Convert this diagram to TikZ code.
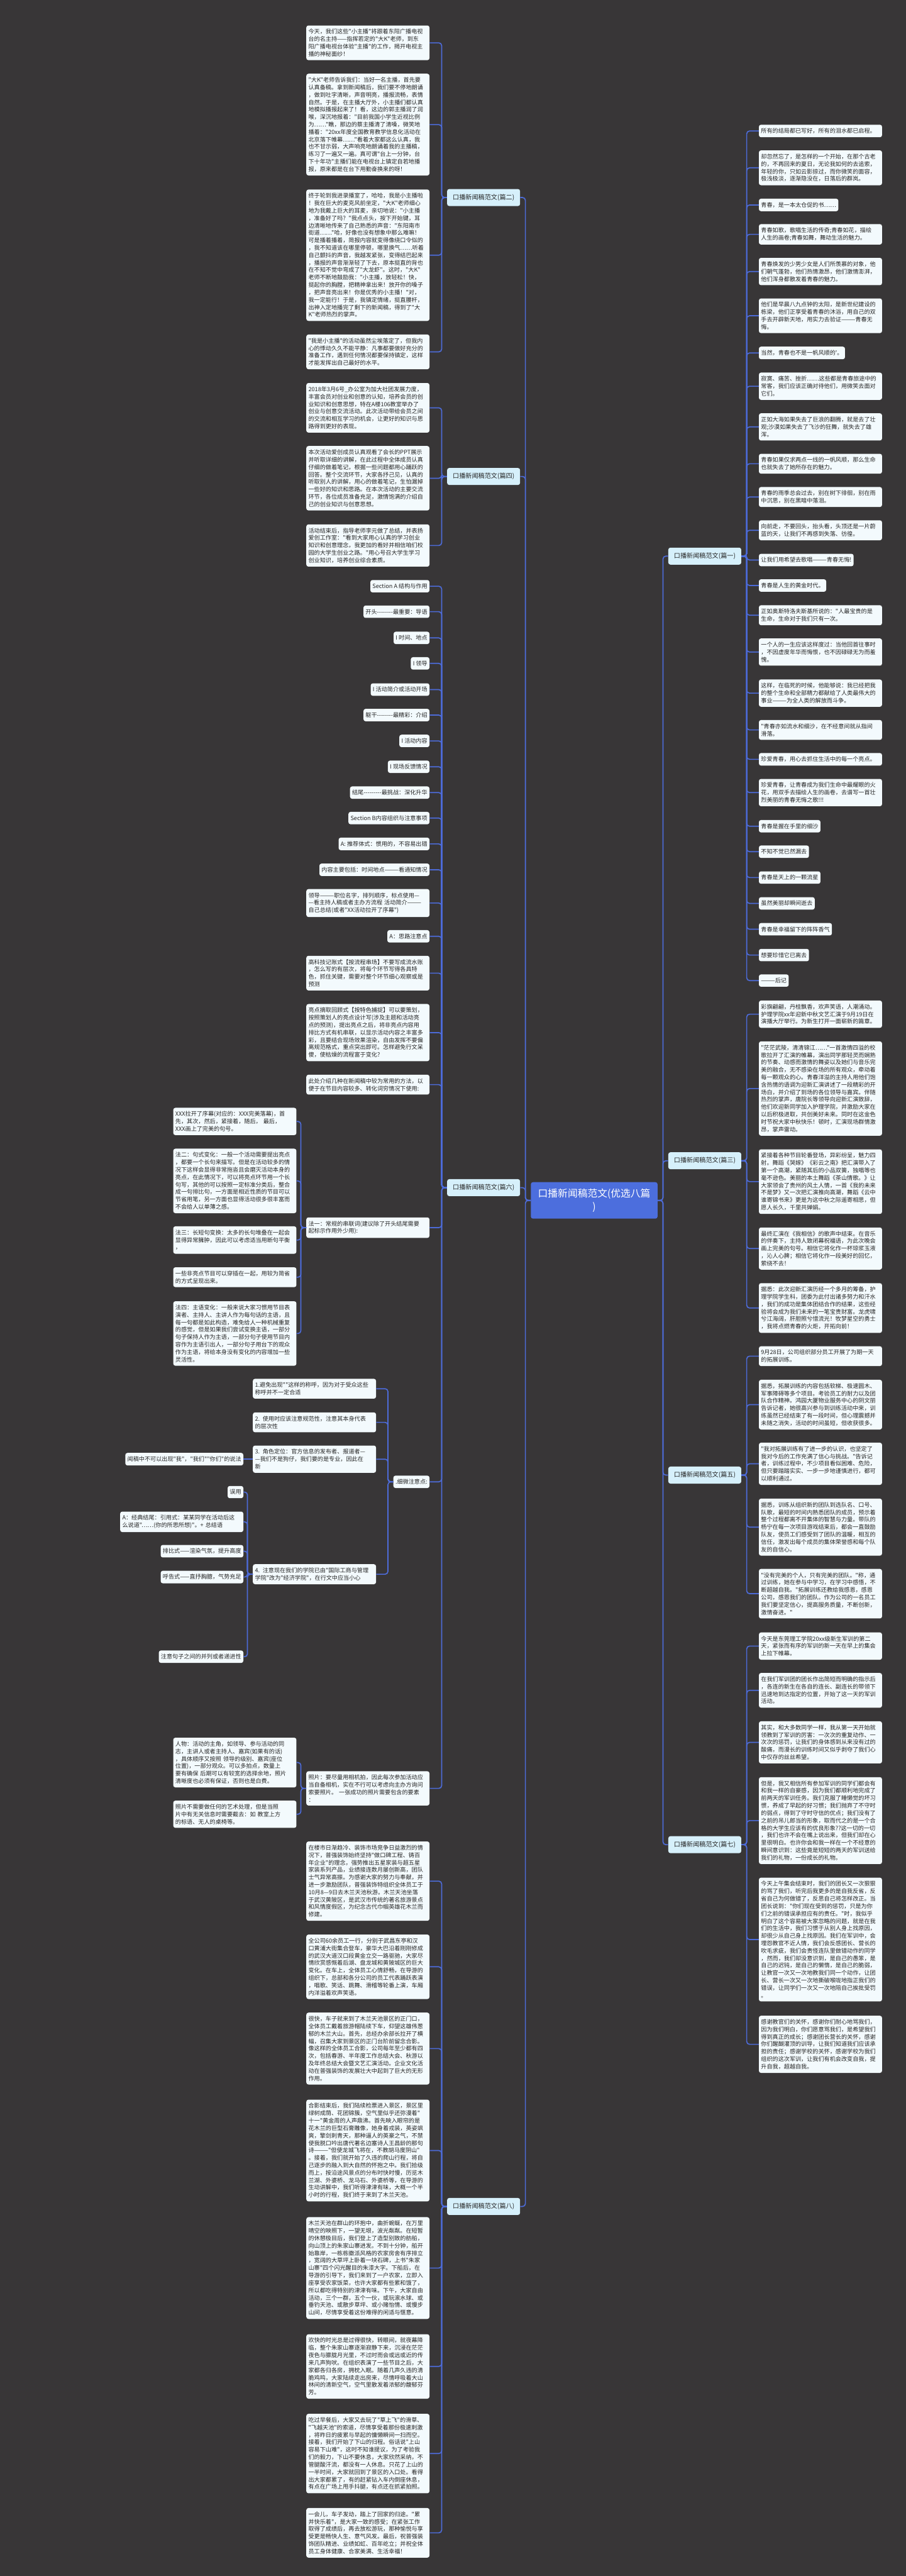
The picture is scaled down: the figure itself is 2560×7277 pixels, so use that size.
\documentclass[tikz,border=0pt]{standalone}
\usepackage{fontspec}
\setmainfont{Noto Sans CJK SC}[Ligatures=TeXOff]
\definecolor{mmbg}{HTML}{383637}
\definecolor{mmroot}{HTML}{4C6EDD}
\definecolor{mmtopic}{HTML}{D6F0FB}
\definecolor{mmleaf}{HTML}{F3FAFD}
\definecolor{mmlink}{HTML}{4D6BD8}
\definecolor{mmink}{HTML}{262626}
\tikzset{
  bx/.style={rounded corners=3pt, fill=mmleaf, text=mmink, inner xsep=3pt, inner ysep=5pt, align=left, font=\fontsize{8.1}{10.5}\selectfont},
  leaf/.style={bx, text width=168pt},
  tag/.style={bx},
  topic/.style={rounded corners=3pt, fill=mmtopic, text=mmink, inner xsep=8pt, minimum height=24pt, font=\fontsize{9}{11}\selectfont},
  root/.style={rounded corners=3pt, fill=mmroot, text=white, align=center, minimum width=179pt, minimum height=51.5pt, font=\fontsize{14}{19}\selectfont},
  link/.style={draw=mmlink, line width=1.5pt, rounded corners=4pt},
}
\begin{document}
\begin{tikzpicture}[x=0.5pt,y=-0.5pt]
  \fill[mmbg] (0,0) rectangle (2560,7277);
  \useasboundingbox (0,0) rectangle (2560,7277);

  % centre and first level
  \node[root] (root) at (1679,3391) {口播新闻稿范文(优选八篇\\)};
  \node[topic, anchor=east] (p2) at (1470,558) {口播新闻稿范文(篇二)};
  \node[topic, anchor=east] (p4) at (1470,1346) {口播新闻稿范文(篇四)};
  \node[topic, anchor=east] (p6) at (1470,3355) {口播新闻稿范文(篇六)};
  \node[topic, anchor=east] (p8) at (1470,6233) {口播新闻稿范文(篇八)};
  \node[topic, anchor=west] (p1) at (1888,1571) {口播新闻稿范文(篇一)};
  \node[topic, anchor=west] (p3) at (1888,3279) {口播新闻稿范文(篇三)};
  \node[topic, anchor=west] (p5) at (1888,4167) {口播新闻稿范文(篇五)};
  \node[topic, anchor=west] (p7) at (1888,5211) {口播新闻稿范文(篇七)};

  % pian er
  \node[leaf, anchor=east] (b2a) at (1214,121) {今天，我们这些"小主播"将跟着东阳广播电视\\台的名主持——指挥若定的"大K"老师，到东\\阳广播电视台体验"主播"的工作，揭开电视主\\播的神秘面纱！};
  \node[leaf, anchor=east] (b2b) at (1214,352) {"大K"老师告诉我们：当好一名主播，首先要\\认真备稿。拿到新闻稿后，我们要不停地朗诵\\，做到吐字清晰，声音明亮，播报流畅，表情\\自然。于是，在主播大厅外，小主播们都认真\\地模拟播报起来了！看，这边的郭主播润了润\\喉，深沉地报着："目前我国小学生近视比例\\为……"瞧，那边的蔡主播清了清嗓，微笑地\\播着："20xx年度全国教育教学信息化活动在\\北京落下帷幕……"看着大家都这么认真，我\\也不甘示弱，大声响亮地朗诵着我的主播稿，\\练习了一遍又一遍。真可谓"台上一分钟，台\\下十年功"主播们能在电视台上镇定自若地播\\报，原来都是在台下用勤奋换来的呀！};
  \node[leaf, anchor=east] (b2c) at (1214,721) {终于轮到我进录播室了，哈哈，我是小主播啦\\！我在巨大的麦克风前坐定，"大K"老师细心\\地为我戴上巨大的耳麦，亲切地说："小主播\\，准备好了吗？"我点点头，按下开始键，耳\\边清晰地传来了自己熟悉的声音："东阳南市\\街道……"哈，好像也没有想象中那么难嘛！\\可是播着播着，简报内容就变得像绕口令似的\\，我不知道该在哪里停顿，哪里换气……听着\\自己颤抖的声音，我越发紧张，变得结巴起来\\，播报的声音渐渐轻了下去，原本挺直的背也\\在不知不觉中弯成了"大龙虾"。这时，"大K"\\老师不断地鼓励我："小主播，放轻松！快，\\挺起你的胸膛，把精神拿出来！放开你的嗓子\\，把声音亮出来！你是优秀的小主播！"对，\\我一定能行！于是，我镇定情绪，挺直腰杆，\\出神入定地播完了剩下的新闻稿，得到了"大\\K"老师热烈的掌声。};
  \node[leaf, anchor=east] (b2d) at (1214,994) {"我是小主播"的活动虽然尘埃落定了，但我内\\心的悸动久久不能平静：凡事都要做好充分的\\准备工作，遇到任何情况都要保持镇定，这样\\才能发挥出自己最好的水平。};

  % pian si
  \node[leaf, anchor=east] (b4a) at (1214,1152) {2018年3月6号\_办公室为加大社团发展力度，\\丰富会员对创业和创意的认知，培养会员的创\\业知识和创意思想，特在A楼106教室举办了\\创业与创意交流活动。此次活动带给会员之间\\的交流和相互学习的机会，让更好的知识与思\\路得到更好的表现。};
  \node[leaf, anchor=east] (b4b) at (1214,1351) {本次活动爱创成员认真观看了会长的PPT展示\\并听取详细的讲解，在此过程中全体成员认真\\仔细的做着笔记，根据一些问题都用心踊跃的\\回答。整个交流环节，大家各抒己见，认真的\\听取别人的讲解，用心的做着笔记，生怕漏掉\\一些好的知识和思路。在本次活动的主要交流\\环节，各位成员准备充足，激情饱满的介绍自\\己的创业知识与创意思想。};
  \node[leaf, anchor=east] (b4c) at (1214,1541) {活动结束后，指导老师李元做了总结，并表扬\\爱创工作室："看到大家用心认真的学习创业\\知识和创意理念，我更加的看好并相信咱们校\\园的大学生创业之路。"用心号召大学生学习\\创业知识，培养创业综合素质。};

  % pian liu
  \node[tag, anchor=east] (b6a) at (1214,1656) {Section A 结构与作用};
  \node[tag, anchor=east] (b6b) at (1214,1728) {开头--------最重要：导语};
  \node[tag, anchor=east] (b6c) at (1214,1802) {I 时间、地点};
  \node[tag, anchor=east] (b6d) at (1214,1874) {I 领导};
  \node[tag, anchor=east] (b6e) at (1214,1948) {I 活动简介或活动开场};
  \node[tag, anchor=east] (b6f) at (1214,2020) {躯干--------最精彩：介绍};
  \node[tag, anchor=east] (b6g) at (1214,2093) {I 活动内容};
  \node[tag, anchor=east] (b6h) at (1214,2166) {I 现场反馈情况};
  \node[tag, anchor=east] (b6i) at (1214,2239) {结尾---------最挑战：深化升华};
  \node[tag, anchor=east] (b6j) at (1214,2311) {Section B内容组织与注意事项};
  \node[tag, anchor=east] (b6k) at (1214,2384) {A: 推荐体式：惯用的，不容易出错};
  \node[tag, anchor=east] (b6l) at (1214,2457) {内容主要包括：时间地点———看通知情况};
  \node[leaf, anchor=east] (b6m) at (1214,2551) {领导———职位名字，排列顺序，标点使用—\\—看主持人稿或者主办方流程 活动简介———\\自己总结(或者"XX活动拉开了序幕")};
  \node[tag, anchor=east] (b6n) at (1214,2645) {A：思路注意点};
  \node[leaf, anchor=east] (b6o) at (1214,2749) {高科技记账式【按流程串场】不要写成流水账\\，怎么写的有层次，将每个环节写得各具特\\色，抓住关键，需要对整个环节细心观察或是\\预测};
  \node[leaf, anchor=east] (b6p) at (1214,2917) {亮点摘取回顾式【按特色捕捉】可以要策划，\\按照策划人的亮点设计写(涉及主题和活动亮\\点的预测)，提出亮点之后，将非亮点内容用\\排比方式有机串联，以显示活动内容之丰富多\\彩，且要结合现场效果渲染，自由发挥不要偏\\离规范格式，重点突出即可。怎样避免行文呆\\傻，使枯燥的流程富于变化?};
  \node[leaf, anchor=east] (b6q) at (1214,3064) {此处介绍几种在新闻稿中较为常用的方法，以\\便于在节目内容较多、转化词穷情况下使用:};
  \node[leaf, anchor=east] (b6r) at (1214,3468) {法一：常规的串联词(建议除了开头结尾需要\\起标示作用外少用):};
  \node[tag, anchor=east] (b6s) at (1214,4186) {.细微注意点:};
  \node[leaf, anchor=east] (b6t) at (1214,5052) {照片：要尽量用相机拍，因此每次参加活动应\\当自备相机，实在不行可以考虑向主办方询问\\索要照片。 一张成功的照片需要包含的要素\\：};

  \node[leaf, anchor=east] (f1) at (838,3168) {XXX拉开了序幕(对应的：XXX完美落幕)，首\\先，其次，然后，紧接着，随后， 最后，\\XXX画上了完美的句号。};
  \node[leaf, anchor=east] (f2) at (838,3336) {法二：句式变化：一般一个活动需要提出亮点\\，都要一个长句来描写。但是在活动较多的情\\况下这样会显得非常拖沓且会磨灭活动本身的\\亮点，在此情况下，可以将亮点环节用一个长\\句写，其他的可以按照一定标准分类后，整合\\成一句排比句，一方面是相近性质的节目可以\\节省用笔，另一方面也显得活动很多很丰富而\\不会给人以单薄之感。};
  \node[leaf, anchor=east] (f3) at (838,3503) {法三：长短句变换：太多的长句堆叠在一起会\\显得异常臃肿，因此可以考虑适当用断句平衡\\，};
  \node[leaf, anchor=east] (f4) at (838,3608) {一些非亮点节目可以穿插在一起，用较为简省\\的方式呈现出来。};
  \node[leaf, anchor=east] (f5) at (838,3767) {法四：主语变化：一般来说大家习惯用节目表\\演者、主持人、主讲人作为每句话的主语，且\\每一句都是如此构造，难免给人一种机械重复\\的感觉，但是如果我们尝试变换主语，一部分\\句子保持人作为主语，一部分句子使用节目内\\容作为主语引出人，一部分句子用台下的观众\\作为主语，将给本身没有变化的内容增加一些\\灵活性。};

  \node[leaf, anchor=east] (g1) at (1063,3923) {1.避免出现""这样的称呼，因为对于受众这些\\称呼并不一定合适};
  \node[leaf, anchor=east] (g2) at (1063,4018) {2. 使用时应该注意规范性，注意其本身代表\\的层次性};
  \node[leaf, anchor=east] (g3) at (1063,4122) {3. 角色定位：官方信息的发布者、报道者—\\—我们不是狗仔，我们要的是专业，因此在\\新};
  \node[leaf, anchor=east] (g4) at (1063,4447) {4. 注意现在我们的学院已由"国际工商与管理\\学院"改为"经济学院"，在行文中应当小心};
  \node[tag, anchor=east] (h1) at (688,4122) {闻稿中不可以出现"我"，"我们""你们"的说法};
  \node[tag, anchor=east] (k1) at (688,4215) {误用};
  \node[leaf, anchor=east] (k2) at (688,4299) {A：经典结尾：引用式：某某同学在活动后这\\么说道"……(你的所思所想)"。+ 总结语};
  \node[tag, anchor=east] (k3) at (688,4382) {排比式——渲染气氛，提升高度};
  \node[tag, anchor=east] (k4) at (688,4455) {呼告式——直抒胸臆，气势充足};
  \node[tag, anchor=east] (k5) at (688,4680) {注意句子之间的并列或者递进性};

  \node[leaf, anchor=east] (m1) at (838,4979) {人物：活动的主角，如领导、参与活动的同\\志，主讲人或者主持人、嘉宾(如果有的话)\\，具体顺序又按照 领导的级别、嘉宾(座位\\位置)，一部分观众。可以多拍点，数量上\\要有确保 后期可以有较宽的选择余地，照片\\清晰度也必须有保证，否则也是白费。};
  \node[leaf, anchor=east] (m2) at (838,5125) {照片不需要做任何的艺术处理，但是当照\\片中有无关信息时需要截去：如 教室上方\\的标语、无人的桌椅等。};

  % pian ba
  \node[leaf, anchor=east] (b8a) at (1214,5314) {在楼市日渐趋冷、装饰市场竞争日益激烈的情\\况下，普强装饰始终坚持"做口碑工程、铸百\\年企业"的理念，强势推出五星家装与超五星\\家装系列产品，业绩接连数月屡创新高，团队\\士气异常高振。为感谢大家的努力与奉献，并\\进一步激励团队，普强装饰特组织全体员工于\\10月8—9日去木兰天池秋游。木兰天池坐落\\于武汉黄陂区，是武汉市传统的著名旅游景点\\和风情度假区，为纪念古代巾帼英雄花木兰而\\修建。};
  \node[leaf, anchor=east] (b8b) at (1214,5556) {全公司60余员工一行，分别于武昌东亭和汉\\口黄浦大街集合登车，豪华大巴沿着刚刚修成\\的武汉大道汉口段黄金立交一路驱驰，大家尽\\情欣赏感慨着后湖、盘龙城和黄陂城区的巨大\\变化。在车上，全体员工心情舒畅，在导游的\\组织下，总部和各分公司的员工代表踊跃表演\\，唱歌、笑话、跳舞、滑稽等轮番上演，车厢\\内洋溢着欢声笑语。};
  \node[leaf, anchor=east] (b8c) at (1214,5787) {很快，车子就来到了木兰天池景区的正门口，\\全体员工戴着旅游帽陆续下车，仰望这雄伟葱\\郁的木兰大山。首先，总经办余部长拉开了横\\幅，召集大家到景区的正门台阶前留念合影。\\像这样的全体员工合影，公司每年至少都有四\\次，包括春游、半年度工作总结大会、秋游以\\及年终总结大会暨文艺汇演活动。企业文化活\\动在普强装饰的发展壮大中起到了巨大的无形\\作用。};
  \node[leaf, anchor=east] (b8d) at (1214,6075) {合影结束后，我们陆续检票进入景区，景区里\\绿树成荫、花团锦簇，空气里似乎还弥漫着"\\十一"黄金周的人声鼎沸。首先映入眼帘的是\\花木兰的巨型石膏雕像，她身着戎装，英姿飒\\爽，擎剑刺青天，那种逼人的英豪之气，不禁\\使我脱口吟出唐代著名边塞诗人王昌龄的那句\\诗———"但使龙城飞将在，不教胡马度阴山"\\。接着，我们就开始了久违的爬山行程，将自\\己逐步的融入到大自然的怀抱之中。我们拾级\\而上，按沿途风景点的分布时快时慢，历览木\\兰湖、外婆桥、龙马石、外婆桥等，在导游的\\生动讲解中，我们听得津津有味，大概一个半\\小时的行程，我们终于来到了木兰天池。};
  \node[leaf, anchor=east] (b8e) at (1214,6407) {木兰天池在群山的环抱中，曲折蜿蜒，在万里\\晴空的映照下，一望无垠，波光粼粼。在短暂\\的休憩极目后，我们登上了造型别致的舫船，\\向山顶上的朱家山寨进发。不到十分钟，船开\\始靠岸，一栋栋徽派风格的农家房舍有序排立\\，宽阔的大草坪上卧着一块石碑，上书"朱家\\山寨"四个闪光醒目的朱漆大字。下船后，在\\导游的引导下，我们来到了一户农家，立即入\\座享受农家饭菜，也许大家都有些累和饿了，\\所以都吃得特别的津津有味。下午，大家自由\\活动，三个一群，五个一伙，或玩滚水球、或\\垂钓天池、或散步草坪、或小赌怡情、或慢步\\山间，尽情享受着这份难得的闲适与惬意。};
  \node[leaf, anchor=east] (b8f) at (1214,6685) {欢快的时光总是过得很快，转眼间，就夜幕降\\临，整个朱家山寨逐渐寂静下来，沉浸在茫茫\\夜色与朦胧月光里，不过时而会或远或近的传\\来几声狗吠。在组织表演了一些节目之后，大\\家都各归各房，拥枕入眠。随着几声久违的清\\脆鸡鸣，大家陆续走出房来，尽情呼吸着大山\\林间的清新空气，空气里散发着浓郁的馥郁芬\\芳。};
  \node[leaf, anchor=east] (b8g) at (1214,6931) {吃过早餐后，大家又去玩了"草上飞"的滑草、\\"飞越天池"的索道，尽情享受着那份极速刺激\\，将昨日的疲累与早起的慵懒瞬间一扫而空。\\接着，我们开始了下山的归程。俗话说"上山\\容易下山难"，这时不知谁提议，为了考验我\\们的毅力，下山不要休息，大家欣然采纳，不\\管腿酸汗流，都没有一人休息。只花了上山的\\一半时间，大家就回到了景区的入口处。看得\\出大家都累了，有的赶紧钻入车内倒座休息，\\有点在广场上甩手抖腿，有点还在抓紧拍照。};
  \node[leaf, anchor=east] (b8h) at (1214,7155) {一会儿，车子发动，踏上了回家的归途。"累\\并快乐着"，是大家一致的感受；在紧张工作\\取得了成绩后，再去放松游玩，那种愉悦与享\\受更是畅快人生、意气风发。最后，祝普强装\\饰团队精进、业绩如虹、百年屹立；并祝全体\\员工身体健康、合家美满、生活幸福！};

  % pian yi
  \node[leaf, anchor=west] (r1a) at (2144,370) {所有的结局都已写好，所有的泪水都已启程。};
  \node[leaf, anchor=west] (r1b) at (2144,474) {却忽然忘了，是怎样的一个开始，在那个古老\\的，不再回来的夏日，无论我如何的去追索，\\年轻的你，只如云影掠过，而你微笑的面容，\\极浅极淡，逐渐隐没在，日落后的群岚。};
  \node[tag, anchor=west] (r1c) at (2144,579) {青春，是一本太仓促的书……};
  \node[leaf, anchor=west] (r1d) at (2144,662) {青春如歌，歌唱生活的传奇;青春如花，描绘\\人生的画卷;青春如舞，舞动生活的魅力。};
  \node[leaf, anchor=west] (r1e) at (2144,767) {青春焕发的少男少女是人们所羡慕的对象，他\\们朝气蓬勃，他们热情激昂，他们激情澎湃，\\他们浑身都散发着青春的魅力。};
  \node[leaf, anchor=west] (r1f) at (2144,892) {他们是早晨八九点钟的太阳，是新世纪建设的\\栋梁，他们正享受着青春的沐浴，用自己的双\\手去开辟新天地，用实力去验证———青春无\\悔。};
  \node[tag, anchor=west] (r1g) at (2144,997) {当然，青春也不是一帆风顺的'。};
  \node[leaf, anchor=west] (r1h) at (2144,1091) {寂寞、痛苦、挫折……这些都是青春旅途中的\\常客，我们应该正确对待他们，用微笑去面对\\它们。};
  \node[leaf, anchor=west] (r1i) at (2144,1206) {正如大海如果失去了巨浪的翻腾，就是去了壮\\观;沙漠如果失去了飞沙的狂舞，就失去了雄\\浑。};
  \node[leaf, anchor=west] (r1j) at (2144,1310) {青春如果仅求两点一线的一帆风顺，那么生命\\也就失去了她所存在的魅力。};
  \node[leaf, anchor=west] (r1k) at (2144,1404) {青春的雨季总会过去，别在树下徘徊，别在雨\\中沉思，别在黑暗中落泪。};
  \node[leaf, anchor=west] (r1l) at (2144,1498) {向前走，不要回头，抬头看，头顶还是一片蔚\\蓝的天，让我们不再感到失落、彷徨。};
  \node[tag, anchor=west] (r1m) at (2144,1582) {让我们用希望去歌唱———青春无悔!};
  \node[tag, anchor=west] (r1n) at (2144,1654) {青春是人生的黄金时代。};
  \node[leaf, anchor=west] (r1o) at (2144,1738) {正如奥斯特洛夫斯基所说的："人最宝贵的是\\生命，生命对于我们只有一次。};
  \node[leaf, anchor=west] (r1p) at (2144,1842) {一个人的一生应该这样度过：当他回首往事时\\，不因虚度年华而悔恨，也不因碌碌无为而羞\\愧。};
  \node[leaf, anchor=west] (r1q) at (2144,1958) {这样，在临死的时候，他能够说：我已经把我\\的整个生命和全部精力都献给了人类最伟大的\\事业———为全人类的解放而斗争。};
  \node[leaf, anchor=west] (r1r) at (2144,2062) {"青春亦如流水和细沙，在不经意间就从指间\\滑落。};
  \node[leaf, anchor=west] (r1s) at (2144,2145) {珍爱青春，用心去抓住生活中的每一个亮点。};
  \node[leaf, anchor=west] (r1t) at (2144,2239) {珍爱青春，让青春成为我们生命中最耀眼的火\\花，用双手去描绘人生的画卷，去谱写一首壮\\烈美丽的青春无悔之歌!!!};
  \node[tag, anchor=west] (r1u) at (2144,2334) {青春是握在手里的细沙};
  \node[tag, anchor=west] (r1v) at (2144,2406) {不知不觉已然漏去};
  \node[tag, anchor=west] (r1w) at (2144,2479) {青春是天上的一颗流星};
  \node[tag, anchor=west] (r1x) at (2144,2552) {虽然美丽却瞬间逝去};
  \node[tag, anchor=west] (r1y) at (2144,2625) {青春是幸福留下的阵阵香气};
  \node[tag, anchor=west] (r1z) at (2144,2698) {想要珍惜它已离去};
  \node[tag, anchor=west] (r1za) at (2144,2770) {———后记};

  % pian san
  \node[leaf, anchor=west] (r3a) at (2144,2865) {彩旗翩翩，丹桂飘香，欢声笑语，人潮涌动。\\护理学院xx年迎新中秋文艺汇演于9月19日在\\演播大厅举行。为新生打开一面崭新的篇章。};
  \node[leaf, anchor=west] (r3b) at (2144,3075) {"茫茫武陵，清清锦江……"一首激情四溢的校\\歌拉开了汇演的帷幕，演出同学那轻灵而娴熟\\的节奏、动感而激情的舞姿以及她们与音乐完\\美的融合，无不感染在场的所有观众，牵动着\\每一颗观众的心。青春洋溢的主持人用他们饱\\含热情的语调为迎新汇演讲述了一段精彩的开\\场白，并介绍了到场的各位领导与嘉宾。伴随\\热烈的掌声，唐院长等领导向迎新汇演致辞，\\他们欢迎新同学加入护理学院，并激励大家在\\以后积极进取，共创美好未来。同时在这金色\\时节祝大家中秋快乐！顿时，汇演现场群情激\\昂，掌声雷动。};
  \node[leaf, anchor=west] (r3c) at (2144,3338) {紧接着各种节目轮番登场，异彩纷呈，魅力四\\射。舞蹈《哭嫁》《彩云之南》把汇演带入了\\第一个高潮，紧随其后的小品双簧，独唱等也\\毫不逊色。美丽的本土舞蹈《茶山情歌。》让\\大家领会了贵州的风土人情，一首《我的未来\\不是梦》又一次把汇演推向高潮，舞蹈《云中\\谁寄锦书来》更是为这中秋之际遥寄相思，但\\愿人长久，千里共婵娟。};
  \node[leaf, anchor=west] (r3d) at (2144,3527) {最终汇演在《我相信》的歌声中结束。在音乐\\的伴奏下，主持人致闭幕祝福语，为此次晚会\\画上完美的句号。相信它将化作一杯琼浆玉液\\，沁人心脾；相信它将化作一段美好的回忆，\\萦绕不去！};
  \node[leaf, anchor=west] (r3e) at (2144,3695) {据悉：此次迎新汇演历经一个多月的筹备，护\\理学院学生科，团委为此付出诸多努力和汗水\\，我们的成功是集体团结合作的结果，这些经\\验将会成为我们未来的一笔宝贵财富。龙虎啸\\兮江海阔，肝胆照兮惜流光！牧梦星空的勇士\\，我将点燃青春的火炬，开拓向前！};

  % pian wu
  \node[leaf, anchor=west] (r5a) at (2144,3831) {9月28日，公司组织部分员工开展了为期一天\\的拓展训练。};
  \node[leaf, anchor=west] (r5b) at (2144,3968) {据悉，拓展训练的内容包括软梯、极速圆木、\\军事障碍等多个项目。考验员工的耐力以及团\\队合作精神。鸿园大厦物业服务中心的阴文丽\\告诉记者，她很高兴参与到训练活动中来，训\\练虽然已经结束了有一段时间，但心理震撼并\\未随之消失，活动的时间虽短，但收获很多。};
  \node[leaf, anchor=west] (r5c) at (2144,4135) {"我对拓展训练有了进一步的认识，也坚定了\\我对今后的工作充满了信心与挑战。"告诉记\\者，训练过程中，不少项目看似困难、危险，\\但只要踏踏实实、一步一步地谨慎进行，都可\\以顺利通过。};
  \node[leaf, anchor=west] (r5d) at (2144,4314) {据悉，训练从组织新的团队到选队名、口号、\\队歌，最短的时间内熟悉团队的成员，预示着\\整个过程都离不开集体的智慧与力量。带队的\\杨宁在每一次项目游戏结束后，都会一直鼓励\\队友，使员工们感受到了团队的温暖，相互的\\信任，激发出每个成员的集体荣誉感和每个队\\友的自信心。};
  \node[leaf, anchor=west] (r5e) at (2144,4502) {"没有完美的个人，只有完美的团队。"称，通\\过训练，她在参与中学习，在学习中感悟，不\\断超越自我。"拓展训练还教给我感恩，感恩\\公司，感恩我们的团队。作为公司的一名员工\\我们要坚定信心，提高服务质量，不断创新，\\激情奋进。"};

  % pian qi
  \node[leaf, anchor=west] (r7a) at (2144,4650) {今天是东莞理工学院20xx级新生军训的第二\\天，紧张而有序的军训的新一天在早上的集会\\上拉下帷幕。};
  \node[leaf, anchor=west] (r7b) at (2144,4775) {在我们军训团的团长作出简短而明确的指示后\\，各连的新生在各自的连长、副连长的带领下\\迅速地到达指定的位置，开始了这一天的军训\\活动。};
  \node[leaf, anchor=west] (r7c) at (2144,4922) {其实，和大多数同学一样，我从第一天开始就\\领教到了军训的厉害：一次次的重复动作、一\\次次的惩罚，让我们的身体感到从来没有过的\\酸痛，而漫长的训练时间又似乎剥夺了我们心\\中仅存的丝丝希望。};
  \node[leaf, anchor=west] (r7d) at (2144,5143) {但是，我又相信所有参加军训的同学们都会有\\和我一样的自豪感，因为我们都顺利地完成了\\前两天的军训任务。我们克服了睡懒觉的坏习\\惯，养成了早起的好习惯；我们抛弃了不守时\\的弱点，得到了守时守信的优点；我们没有了\\之前的吊儿郎当的形象，取而代之的是一个合\\格的大学生应该有的优良形象??这一切的一切\\，我们也许不会在嘴上说出来，但我们却在心\\里很明白。也许你会和我一样在一个不经意的\\瞬间意识到：这些竟是短短的两天的军训送给\\我们的礼物，一份成长的礼物。};
  \node[leaf, anchor=west] (r7e) at (2144,5479) {今天上午集会结束时，我们的团长又一次狠狠\\的骂了我们，听完后我更多的是自我反省，反\\省自己为何做错了，反思自己将怎样改正。当\\团长说到："你们现在受到的惩罚，只是为你\\们之前的错误承担应有的责任。"时，我似乎\\明白了这个容易被大家忽略的问题，就是在我\\们的生活中，我们习惯于从别人身上找原因，\\却很少从自己身上找原因。我们在军训中，会\\埋怨教官不近人情，我们会反感团长、营长的\\吹毛求疵，我们会责怪连队里做错动作的同学\\，然而，我们却没意识到，是自己的愚笨，是\\自己的迟钝，是自己的懒惰，是自己的脆弱，\\让教官一次又一次地教我们同一个动作，让团\\长、营长一次又一次地撕破喉咙地指正我们的\\错误，让同学们一次又一次地陪自己挨批受罚\\。};
  \node[leaf, anchor=west] (r7f) at (2144,5775) {感谢教官们的关怀，感谢你们耐心地骂我们，\\因为我们明白，你们愿意骂我们，是希望我们\\得到真正的成长；感谢团长营长的关怀，感谢\\你们醒醐灌顶的训导，让我们知道我们应该承\\担的责任；感谢学校的关怀，感谢学校为我们\\组织的这次军训，让我们有机会改变自我，提\\升自我，超越自我。};

  % connectors
  \foreach \c in {p2,p4,p6,p8} \draw[link] (root.west) -- ++(-15,0) |- (\c.east);
  \foreach \c in {p1,p3,p5,p7} \draw[link] (root.east) -- ++(15,0) |- (\c.west);
  \foreach \c in {b2a,b2b,b2c,b2d} \draw[link] (p2.west) -- ++(-15,0) |- (\c.east);
  \foreach \c in {b4a,b4b,b4c} \draw[link] (p4.west) -- ++(-15,0) |- (\c.east);
  \foreach \c in {b6a,b6b,b6c,b6d,b6e,b6f,b6g,b6h,b6i,b6j,b6k,b6l,b6m,b6n,b6o,b6p,b6q,b6r,b6s,b6t} \draw[link] (p6.west) -- ++(-15,0) |- (\c.east);
  \foreach \c in {f1,f2,f3,f4,f5} \draw[link] (b6r.west) -- ++(-15,0) |- (\c.east);
  \foreach \c in {g1,g2,g3,g4} \draw[link] (b6s.west) -- ++(-15,0) |- (\c.east);
  \draw[link] (g3.west) -- (h1.east);
  \foreach \c in {k1,k2,k3,k4,k5} \draw[link] (g4.west) -- ++(-15,0) |- (\c.east);
  \foreach \c in {m1,m2} \draw[link] (b6t.west) -- ++(-15,0) |- (\c.east);
  \foreach \c in {b8a,b8b,b8c,b8d,b8e,b8f,b8g,b8h} \draw[link] (p8.west) -- ++(-15,0) |- (\c.east);
  \foreach \c in {r1a,r1b,r1c,r1d,r1e,r1f,r1g,r1h,r1i,r1j,r1k,r1l,r1m,r1n,r1o,r1p,r1q,r1r,r1s,r1t,r1u,r1v,r1w,r1x,r1y,r1z,r1za} \draw[link] (p1.east) -- ++(15,0) |- (\c.west);
  \foreach \c in {r3a,r3b,r3c,r3d,r3e} \draw[link] (p3.east) -- ++(15,0) |- (\c.west);
  \foreach \c in {r5a,r5b,r5c,r5d,r5e} \draw[link] (p5.east) -- ++(15,0) |- (\c.west);
  \foreach \c in {r7a,r7b,r7c,r7d,r7e,r7f} \draw[link] (p7.east) -- ++(15,0) |- (\c.west);
\end{tikzpicture}
\end{document}
